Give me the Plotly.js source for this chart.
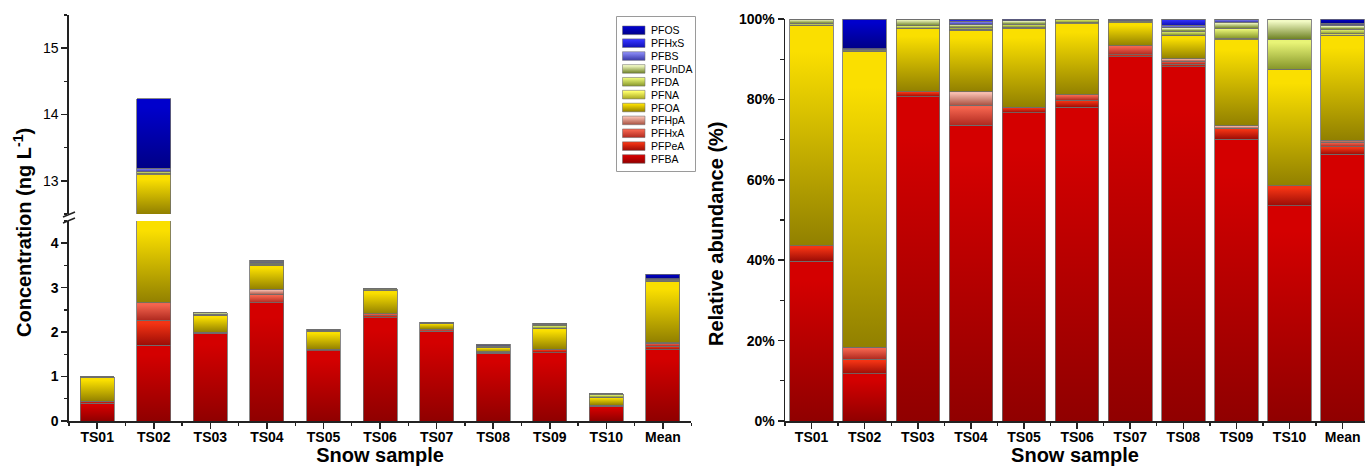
<!DOCTYPE html>
<html><head><meta charset="utf-8">
<script src="https://cdn.plot.ly/plotly-3.0.1.min.js"></script>
<style>html,body{margin:0;padding:0;background:#fff}#chart{width:1365px;height:466px}</style>
</head><body><div id="chart"></div>
<script>
// ---------------- DATA ----------------
const samples = ['TS01','TS02','TS03','TS04','TS05','TS06','TS07','TS08','TS09','TS10','Mean'];
const compounds = ['PFBA','PFPeA','PFHxA','PFHpA','PFOA','PFNA','PFDA','PFUnDA','PFBS','PFHxS','PFOS'];

// Concentration (ng/L), left panel
const concPFBA   = [0.40, 1.70, 1.97, 2.66, 1.58, 2.32, 2.01, 1.52, 1.54, 0.33, 1.60];
const concPFPeA  = [0.04, 0.57, 0.03, 0, 0.03, 0.05, 0.01, 0.012, 0.06, 0.03, 0.083];
const concPFHxA  = [0, 0.39, 0, 0.18, 0, 0.04, 0.05, 0.012, 0, 0, 0.067];
const concPFHpA  = [0, 0, 0, 0.12, 0, 0, 0, 0.01, 0.013, 0, 0.014];
const concPFOA   = [0.54, 10.43, 0.38, 0.55, 0.41, 0.53, 0.13, 0.10, 0.47, 0.18, 1.37];
const concPFNA   = [0, 0.02, 0.003, 0.01, 0.006, 0.009, 0.004, 0.003, 0.007, 0, 0.006];
const concPFDA   = [0.005, 0.03, 0.015, 0.02, 0.014, 0.027, 0.007, 0.017, 0.055, 0.047, 0.024];
const concPFUnDA = [0.01, 0, 0.04, 0.02, 0.019, 0, 0, 0.014, 0.033, 0.031, 0.017];
const concPFBS   = [0, 0.05, 0, 0.03, 0, 0, 0.009, 0.01, 0.018, 0, 0.012];
const concPFHxS  = [0, 0, 0, 0.015, 0, 0, 0, 0.028, 0, 0, 0.004];
const concPFOS   = [0, 1.05, 0, 0.01, 0.008, 0, 0, 0, 0, 0, 0.107];

// Relative abundance (%), right panel
const pctPFBA   = [39.8, 11.7, 80.7, 73.6, 76.7, 78.0, 90.6, 88.1, 70.1, 53.6, 66.3];
const pctPFPeA  = [3.8, 3.7, 1.2, 0, 1.3, 1.8, 0.5, 0.7, 2.7, 4.9, 1.9];
const pctPFHxA  = [0, 2.9, 0, 4.9, 0, 1.3, 2.3, 0.7, 0, 0, 1.2];
const pctPFHpA  = [0, 0, 0, 3.4, 0, 0, 0, 0.6, 0.6, 0, 0.5];
const pctPFOA   = [54.8, 73.7, 15.7, 15.3, 19.7, 17.7, 5.7, 5.7, 21.5, 29.0, 26.1];
const pctPFNA   = [0, 0.1, 0.1, 0.3, 0.3, 0.3, 0.2, 0.2, 0.3, 0, 0.3];
const pctPFDA   = [0.5, 0.2, 0.6, 0.5, 0.7, 0.9, 0.3, 1.0, 2.5, 7.5, 1.2];
const pctPFUnDA = [1.1, 0, 1.7, 0.6, 0.9, 0, 0, 0.8, 1.5, 5.0, 0.8];
const pctPFBS   = [0, 0.3, 0, 0.8, 0, 0, 0.4, 0.6, 0.8, 0, 0.3];
const pctPFHxS  = [0, 0, 0, 0.4, 0, 0, 0, 1.6, 0, 0, 0.3];
const pctPFOS   = [0, 7.4, 0, 0.2, 0.4, 0, 0, 0, 0, 0, 1.1];

const yTicksLow = [0, 1, 2, 3, 4];
const yTicksHigh = [13, 14, 15];
const yTicksPct = [0, 20, 40, 60, 80, 100];
const yTickTextPct = ['0%', '20%', '40%', '60%', '80%', '100%'];

// ---------------- STYLE ----------------
const concTable = {PFBA:concPFBA, PFPeA:concPFPeA, PFHxA:concPFHxA, PFHpA:concPFHpA, PFOA:concPFOA,
  PFNA:concPFNA, PFDA:concPFDA, PFUnDA:concPFUnDA, PFBS:concPFBS, PFHxS:concPFHxS, PFOS:concPFOS};
const pctTable = {PFBA:pctPFBA, PFPeA:pctPFPeA, PFHxA:pctPFHxA, PFHpA:pctPFHpA, PFOA:pctPFOA,
  PFNA:pctPFNA, PFDA:pctPFDA, PFUnDA:pctPFUnDA, PFBS:pctPFBS, PFHxS:pctPFHxS, PFOS:pctPFOS};
const fills = {
  PFBA:  ['#d40000', '#900000', '#c00000'],
  PFPeA: ['#f43414', '#9c0c06', '#dc2010'],
  PFHxA: ['#f4644e', '#b02a20', '#e04838'],
  PFHpA: ['#f6bcae', '#a85040', '#e09888'],
  PFOA:  ['#fadf00', '#918000', '#d0b800'],
  PFNA:  ['#ffff6a', '#a8a820', '#e8e840'],
  PFDA:  ['#e8f476', '#86962a', '#c8d850'],
  PFUnDA:['#f2fac4', '#6e8224', '#c8dc98'],
  PFBS:  ['#8888f4', '#3838a8', '#6a6ae0'],
  PFHxS: ['#3434ff', '#1010b4', '#2020e8'],
  PFOS:  ['#0000cc', '#000086', '#0000a8']
};
const W = 1365, H = 466, MT = 15, MB = 45;
const plotH = H - MT - MB;
const py = p => (H - MB - p) / plotH;   // pixel y -> paper y
const px = p => p / W;                   // pixel x -> paper x
const FONT = 'Liberation Sans, Arial, sans-serif';
const lineCol = '#222';
const idx = samples.map((s, i) => i);

const traces = [];
compounds.forEach(c => {
  const base = {type:'bar', name:c, x:idx, showlegend:false, hoverinfo:'skip',
    marker:{color:fills[c][2], line:{color:'rgba(110,110,110,0.9)', width:0.9}}};
  traces.push(Object.assign({}, base, {y:concTable[c], xaxis:'x', yaxis:'y', width:0.6}));
  traces.push(Object.assign({}, base, {y:concTable[c], xaxis:'x', yaxis:'y2', width:0.6}));
  traces.push(Object.assign({}, base, {y:pctTable[c], xaxis:'x2', yaxis:'y3', width:0.82}));
});

const tickBase = {ticks:'outside', ticklen:6, tickwidth:1.5, tickcolor:lineCol, showline:true,
  linewidth:1.5, linecolor:lineCol, showgrid:false, zeroline:false, fixedrange:true,
  tickfont:{family:FONT, size:14, color:'#000', weight:'bold'}};

const layout = {
  width:W, height:H, margin:{l:0, r:0, t:MT, b:MB},
  paper_bgcolor:'#fff', plot_bgcolor:'rgba(0,0,0,0)',
  barmode:'stack', showlegend:false,
  font:{family:FONT, color:'#000'},
  xaxis: Object.assign({}, tickBase, {domain:[px(68.9), px(691.2)], range:[-0.5, 10.5], anchor:'y',
    tickmode:'array', tickvals:idx, ticktext:samples, ticklabelstandoff:-3,
    minor:{tick0:0.5, dtick:1, ticks:'outside', ticklen:3.5, tickwidth:1.3, tickcolor:lineCol},
    title:{text:'Snow sample', font:{family:FONT, size:20, weight:'bold', color:'#000'}, standoff:6}}),
  yaxis: Object.assign({}, tickBase, {domain:[0, py(221)], range:[0, 4.5], anchor:'x',
    tickmode:'array', tickvals:yTicksLow,
    minor:{tick0:0, dtick:0.5, ticks:'outside', ticklen:3.5, tickwidth:1.3, tickcolor:lineCol}}),
  yaxis2: Object.assign({}, tickBase, {domain:[py(214), 1], range:[12.5, 15.5], anchor:'x',
    tickmode:'array', tickvals:yTicksHigh,
    tickfont:{family:FONT, size:14, color:'#000'},
    minor:{tick0:12.5, dtick:0.5, ticks:'outside', ticklen:3.5, tickwidth:1.3, tickcolor:lineCol}}),
  xaxis2: Object.assign({}, tickBase, {domain:[px(785), 1], range:[-0.5, 10.42], anchor:'y3',
    tickmode:'array', tickvals:idx, ticktext:samples, ticklabelstandoff:-3,
    minor:{tick0:0.5, dtick:1, ticks:'outside', ticklen:3.5, tickwidth:1.3, tickcolor:lineCol},
    title:{text:'Snow sample', font:{family:FONT, size:20, weight:'bold', color:'#000'}, standoff:6}}),
  yaxis3: Object.assign({}, tickBase, {domain:[0, py(19)], range:[0, 100], anchor:'x2',
    tickmode:'array', tickvals:yTicksPct, ticktext:yTickTextPct,
    minor:{tick0:0, dtick:10, ticks:'outside', ticklen:3.5, tickwidth:1.3, tickcolor:lineCol}}),
  shapes: [], annotations: []
};

// axis break marks
[[217, 212], [223, 218]].forEach(([a, b]) => {
  layout.shapes.push({type:'line', xref:'paper', yref:'paper', x0:px(63), x1:px(75), y0:py(a), y1:py(b),
    line:{color:lineCol, width:1.5}});
});

// y-axis titles
layout.annotations.push({xref:'paper', yref:'paper', x:px(22), y:py(233), xanchor:'center', yanchor:'middle',
  text:'Concentration (ng L<sup>-1</sup>)', textangle:-90, showarrow:false,
  font:{family:FONT, size:20, weight:'bold', color:'#000'}});
layout.annotations.push({xref:'paper', yref:'paper', x:px(716), y:py(234), xanchor:'center', yanchor:'middle',
  text:'Relative abundance (%)', textangle:-90, showarrow:false,
  font:{family:FONT, size:20, weight:'bold', color:'#000'}});

// legend (drawn as a box, swatches and labels)
layout.shapes.push({type:'rect', xref:'paper', yref:'paper', x0:px(616.5), x1:px(695.5), y0:py(171.5), y1:py(16.5),
  line:{color:'#9a9a9a', width:1}, fillcolor:'rgba(255,255,255,0)'});
const legendOrder = compounds.slice().reverse();
const swatchIndex = {};
legendOrder.forEach((c, k) => {
  const cy = 30.3 + 12.87 * k;
  swatchIndex[c] = layout.shapes.length;
  layout.shapes.push({type:'rect', xref:'paper', yref:'paper', x0:px(622.5), x1:px(645), y0:py(cy + 4.3), y1:py(cy - 4.3),
    line:{color:'rgba(110,110,110,0.9)', width:0.6}, fillcolor:fills[c][2]});
  layout.annotations.push({xref:'paper', yref:'paper', x:px(648.5), y:py(cy), xanchor:'left', yanchor:'middle',
    text:c, showarrow:false, font:{family:FONT, size:10.5, color:'#000'}});
});

const gd = document.getElementById('chart');
Plotly.newPlot(gd, traces, layout, {staticPlot:true, displayModeBar:false}).then(applyGradients);

function applyGradients(gd) {
  const NS = 'http://www.w3.org/2000/svg';
  const svg = gd.querySelector('svg.main-svg');
  let defs = svg.querySelector('defs');
  if (!defs) { defs = document.createElementNS(NS, 'defs'); svg.insertBefore(defs, svg.firstChild); }
  let n = 0;
  function makeGrad(top, bot, y1, y2) {
    const g = document.createElementNS(NS, 'linearGradient');
    const id = 'bargrad' + (n++);
    g.setAttribute('id', id);
    g.setAttribute('x1', 0); g.setAttribute('x2', 0);
    if (y1 !== undefined) {
      g.setAttribute('gradientUnits', 'userSpaceOnUse');
      g.setAttribute('y1', y1); g.setAttribute('y2', y2);
    } else { g.setAttribute('y1', 0); g.setAttribute('y2', 1); }
    [[0, top], [0.12, top], [1, bot]].forEach(([o, col]) => {
      const s = document.createElementNS(NS, 'stop');
      s.setAttribute('offset', o); s.setAttribute('stop-color', col);
      g.appendChild(s);
    });
    defs.appendChild(g);
    return id;
  }
  const baseGrad = {};
  compounds.forEach(c => { baseGrad[c] = makeGrad(fills[c][0], fills[c][1]); });
  const fl = gd._fullLayout;
  gd.querySelectorAll('g.trace.bars').forEach(tg => {
    const cd = tg.__data__;
    if (!cd || !cd[0]) return;
    const tr = cd[0].trace;
    const col = fills[tr.name];
    const yname = tr.yaxis === 'y' ? 'yaxis' : 'yaxis' + tr.yaxis.slice(1);
    const len = fl[yname]._length;
    tg.querySelectorAll('path').forEach(p => {
      let bb;
      try { bb = p.getBBox(); } catch (e) { return; }
      if (!bb || bb.height <= 0) return;
      const t = bb.y, b = bb.y + bb.height;
      if (t < -0.5 || b > len + 0.5) {
        const id = makeGrad(col[0], col[1], Math.max(t, 0), Math.min(b, len));
        p.style.fill = 'url(#' + id + ')';
      } else {
        p.style.fill = 'url(#' + baseGrad[tr.name] + ')';
      }
    });
  });
  compounds.forEach(c => {
    const p = gd.querySelector('.shapelayer path[data-index="' + swatchIndex[c] + '"]');
    if (p) p.style.fill = 'url(#' + baseGrad[c] + ')';
  });
}
</script>
</body></html>
